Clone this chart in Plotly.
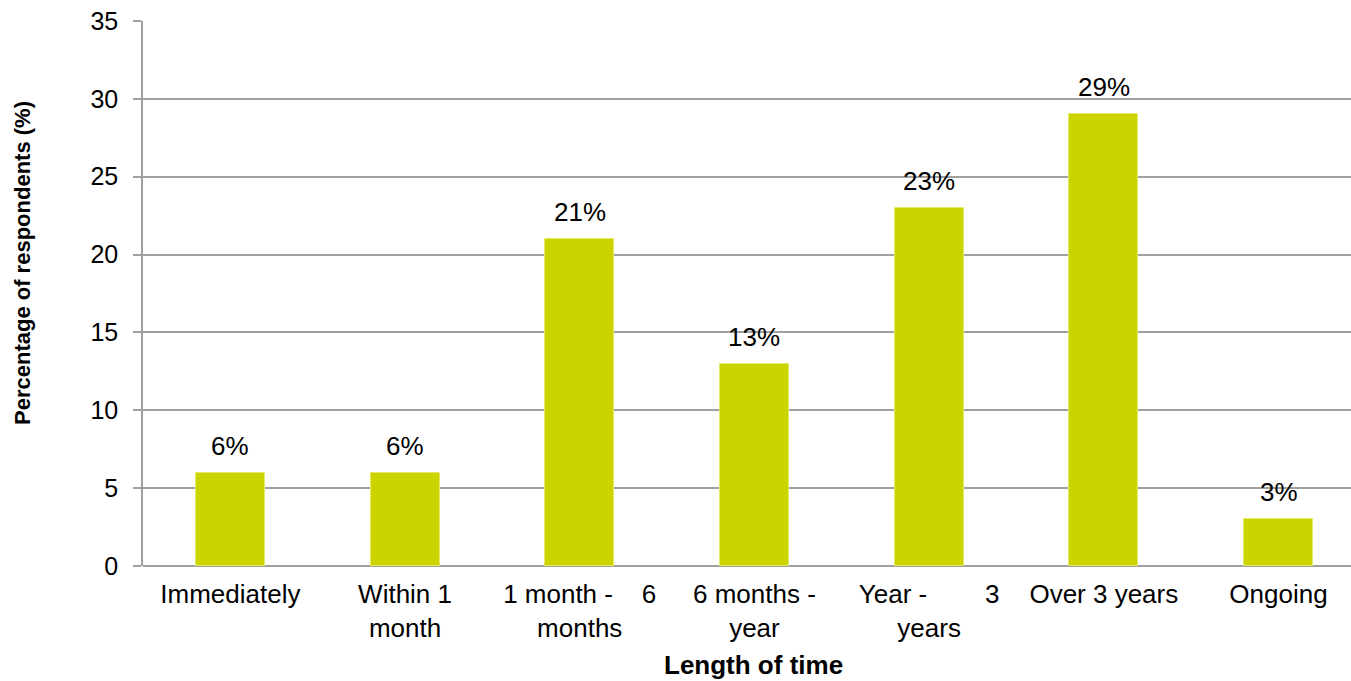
import plotly.graph_objects as go

categories = ["Immediately", "Within 1 month", "1 month - 6 months", "6 months - year",
              "Year - 3 years", "Over 3 years", "Ongoing"]
tick_labels = ["Immediately", "Within 1<br>month",
               "1 month -\u00a0\u00a0\u00a0\u00a06<br>months", "6 months -<br>year",
               "Year -\u00a0\u00a0\u00a0\u00a0\u00a0\u00a0\u00a0\u00a03<br>years",
               "Over 3 years", "Ongoing"]
values = [6, 6, 21, 13, 23, 29, 3]
value_labels = ["6%", "6%", "21%", "13%", "23%", "29%", "3%"]

FONT = "Liberation Sans, Arial, sans-serif"
BAR = "#CCD400"
GRID = "#A0A0A0"
W, H = 1351, 681
L, R, T, B = 143, 0, 21, 115
PW, PH = W - L - R, H - T - B

def px_x(x):
    return (x - L) / PW

def px_y(y):
    return (H - B - y) / PH

fig = go.Figure()
fig.add_trace(go.Bar(
    x=list(range(len(categories))), y=values,
    marker=dict(color=BAR, line=dict(color="#E4EA66", width=1)),
    width=0.395, hoverinfo="skip",
))

for i, (v, t) in enumerate(zip(values, value_labels)):
    fig.add_annotation(x=i, y=v, text=t, showarrow=False, xref="x", yref="y",
                       yanchor="bottom", yshift=10,
                       font=dict(family=FONT, size=26, color="#000000"))

fig.add_annotation(x=px_x(22), y=px_y(263), xref="paper", yref="paper",
                   text="<b>Percentage of respondents (%)</b>",
                   showarrow=False, textangle=-90, xanchor="center", yanchor="middle",
                   font=dict(family=FONT, size=22, color="#000000"))

fig.add_annotation(x=px_x(754), y=px_y(665), xref="paper", yref="paper",
                   text="<b>Length of time</b>", showarrow=False,
                   xanchor="center", yanchor="middle",
                   font=dict(family=FONT, size=26, color="#000000"))

fig.update_layout(
    width=W, height=H,
    margin=dict(l=L, r=R, t=T, b=B),
    paper_bgcolor="white", plot_bgcolor="white",
    showlegend=False, bargap=0,
    font=dict(family=FONT, size=26, color="#000000"),
    xaxis=dict(
        range=[-0.5, 6.415], tickmode="array",
        tickvals=list(range(len(categories))), ticktext=tick_labels,
        showgrid=False, showline=False, zeroline=False, ticks="",
        ticklabelstandoff=10,
        tickfont=dict(family=FONT, size=26, color="#000000"),
    ),
    yaxis=dict(
        range=[0, 35], dtick=5, tick0=0,
        showgrid=True, gridcolor=GRID, gridwidth=1.5,
        showline=True, linecolor=GRID, linewidth=1.5,
        zeroline=True, zerolinecolor=GRID, zerolinewidth=1.5,
        ticks="outside", ticklen=8, tickcolor=GRID, tickwidth=1.5,
        ticklabelstandoff=10,
        tickfont=dict(family=FONT, size=25, color="#000000"),
    ),
)

fig.write_html("out.html")
